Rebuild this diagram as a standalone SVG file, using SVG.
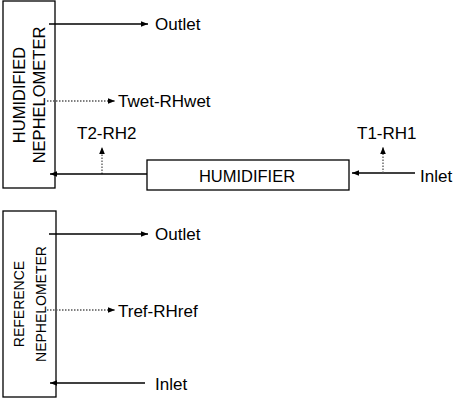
<svg xmlns="http://www.w3.org/2000/svg" width="458" height="401" viewBox="0 0 458 401">
<defs>
<marker id="ah" viewBox="0 0 10 10" refX="10" refY="5" markerWidth="7" markerHeight="7" markerUnits="userSpaceOnUse" orient="auto">
<path d="M0,1 L10,5 L0,9 z" fill="#000"/>
</marker>
</defs>
<style>
.box{fill:#fff;stroke:#000;stroke-width:1.3}
.t{font-family:"Liberation Sans",Arial,sans-serif;font-size:17px;fill:#000}
.solid{stroke:#000;stroke-width:1.3;fill:none}
.dot{stroke:#555;stroke-width:1.3;stroke-dasharray:1.5 1.5;fill:none}
</style>
<g id="humidified-nephelometer">
<rect class="box" x="3" y="1" width="52" height="187"/>
<text class="t" transform="translate(24.5,95) rotate(-90)" text-anchor="middle" style="font-size:16.5px">HUMIDIFIED</text>
<text class="t" transform="translate(45,95) rotate(-90)" text-anchor="middle" style="font-size:16.5px">NEPHELOMETER</text>
</g>
<g id="humidifier">
<rect class="box" x="147" y="160" width="202" height="30"/>
<text class="t" x="247" y="182" text-anchor="middle" style="font-size:16.5px">HUMIDIFIER</text>
</g>
<g id="reference-nephelometer">
<rect class="box" x="3" y="211" width="53" height="186"/>
<text class="t" transform="translate(24,304) rotate(-90)" text-anchor="middle" style="font-size:14px">REFERENCE</text>
<text class="t" transform="translate(46,304) rotate(-90)" text-anchor="middle" style="font-size:14px">NEPHELOMETER</text>
</g>
<g id="labels">
<text class="t" x="155" y="30">Outlet</text>
<text class="t" x="118" y="107">Twet-RHwet</text>
<text class="t" x="77" y="139">T2-RH2</text>
<text class="t" x="357" y="139">T1-RH1</text>
<text class="t" x="420" y="182">Inlet</text>
<text class="t" x="155" y="240">Outlet</text>
<text class="t" x="118" y="317">Tref-RHref</text>
<text class="t" x="155" y="390">Inlet</text>
</g>
<g id="connectors">
<line class="solid" x1="49" y1="24" x2="148" y2="24" marker-end="url(#ah)"/>
<line class="dot" x1="47" y1="101" x2="115" y2="101" marker-end="url(#ah)"/>
<line class="dot" x1="102" y1="174" x2="102" y2="147" marker-end="url(#ah)"/>
<line class="solid" x1="147" y1="174" x2="50" y2="174" marker-end="url(#ah)"/>
<line class="solid" x1="415" y1="173" x2="352" y2="173" marker-end="url(#ah)"/>
<line class="dot" x1="383" y1="173" x2="383" y2="147" marker-end="url(#ah)"/>
<line class="solid" x1="49" y1="234" x2="148" y2="234" marker-end="url(#ah)"/>
<line class="dot" x1="47" y1="310" x2="115" y2="310" marker-end="url(#ah)"/>
<line class="solid" x1="145" y1="383" x2="50" y2="383" marker-end="url(#ah)"/>
</g>
</svg>
